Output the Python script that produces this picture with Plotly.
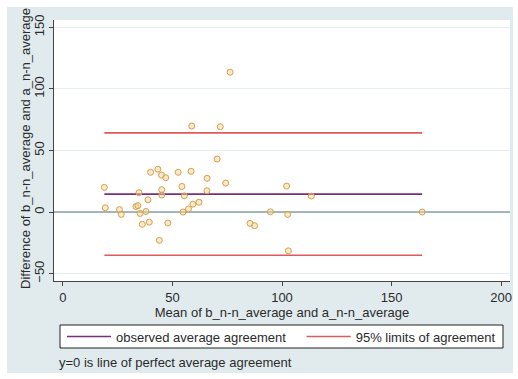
import plotly.graph_objects as go

# Bland-Altman data: mean of the two measurements vs. their difference
mean_vals = [18.9, 19.3, 25.8, 26.6, 33.3, 34.2, 34.7, 35.2, 36.2, 37.9,
             38.8, 39.4, 40.0, 43.3, 44.0, 45.0, 46.9, 45.1, 45.1, 47.9,
             52.6, 54.3, 55.4, 54.8, 57.3, 58.5, 58.8, 59.3, 62.1, 65.8,
             65.7, 70.4, 71.8, 74.3, 76.3, 85.4, 87.5, 94.7, 102.1, 102.6,
             102.9, 113.4, 164.0]
diff_vals = [20.0, 3.5, 2.0, -1.9, 4.5, 5.2, 15.7, -1.1, -10.0, 0.5,
             10.0, -8.2, 32.3, 34.8, -23.0, 30.0, 27.9, 18.2, 13.8, -8.9,
             32.3, 20.8, 13.2, 0.0, 2.5, 33.1, 69.9, 6.4, 8.0, 27.4,
             17.3, 43.1, 69.3, 23.5, 113.6, -9.2, -11.1, 0.2, 21.1, -1.9,
             -31.5, 13.0, 0.0]

mean_diff = 14.6
upper_loa = 64.3
lower_loa = -35.1

x_ticks = [0, 50, 100, 150, 200]
y_ticks = [-50, 0, 50, 100, 150]

x_span = [min(mean_vals), max(mean_vals)]

FONT = "Liberation Sans, Arial, sans-serif"
TXT = "#2b2b2b"
BG = "#e1ebee"

W, H = 518, 379
ML, MR, MT, MB = 54, 8, 20, 98
PW, PH = W - ML - MR, H - MT - MB


def px_x(p):
    return (p - ML) / PW


def px_y(p):
    return (H - MB - p) / PH


fig = go.Figure()

# perfect agreement reference line
fig.add_trace(go.Scatter(
    x=[-10, 210], y=[0, 0], mode="lines",
    line=dict(color="#86a3a3", width=1.6), showlegend=False, hoverinfo="skip"))

fig.add_trace(go.Scatter(
    x=x_span, y=[mean_diff, mean_diff], mode="lines",
    line=dict(color="#7b2d7f", width=1.6),
    name="observed average agreement\u00a0\u00a0\u00a0"))

fig.add_trace(go.Scatter(
    x=x_span, y=[upper_loa, upper_loa], mode="lines",
    line=dict(color="#e05a5c", width=1.6), name="95% limits of agreement",
    legendgroup="loa"))
fig.add_trace(go.Scatter(
    x=x_span, y=[lower_loa, lower_loa], mode="lines",
    line=dict(color="#e05a5c", width=1.6), showlegend=False,
    legendgroup="loa"))

fig.add_trace(go.Scatter(
    x=mean_vals, y=diff_vals, mode="markers",
    marker=dict(size=6, color="rgba(246,214,150,0.5)",
                line=dict(color="#d69f4c", width=1)),
    showlegend=False))

# thin white border strips around the tinted graph region
for (a, b, c, d) in [(0, 7, 0, H), (W - 5, W, 0, H), (0, W, 0, 7), (0, W, H - 6, H)]:
    fig.add_shape(type="rect", xref="paper", yref="paper",
                  x0=px_x(a), x1=px_x(b), y0=px_y(d), y1=px_y(c),
                  fillcolor="white", line=dict(width=0), layer="above")

# legend box
fig.add_shape(type="rect", xref="paper", yref="paper",
              x0=px_x(60), x1=px_x(503), y0=px_y(348), y1=px_y(325),
              fillcolor="white", line=dict(color="#222", width=1),
              layer="above")

# y-axis title
fig.add_annotation(
    text="Difference of b_n-n_average and a_n-n_average",
    xref="paper", yref="paper", x=px_x(25), y=px_y(149),
    xanchor="center", yanchor="middle", textangle=-90, showarrow=False,
    font=dict(family=FONT, size=13, color=TXT))

fig.add_annotation(
    text="y=0 is line of perfect average agreement",
    xref="paper", yref="paper", x=px_x(57), y=px_y(362),
    xanchor="left", yanchor="middle", showarrow=False,
    font=dict(family=FONT, size=13, color=TXT))

fig.update_layout(
    width=W, height=H,
    margin=dict(l=ML, r=MR, t=MT, b=MB, autoexpand=False),
    paper_bgcolor=BG, plot_bgcolor="white",
    font=dict(family=FONT, size=13, color=TXT),
    legend=dict(
        orientation="h", x=px_x(62), xanchor="left",
        y=px_y(336.5), yanchor="middle",
        bgcolor="rgba(0,0,0,0)", borderwidth=0,
        font=dict(family=FONT, size=13, color=TXT),
        itemwidth=44, traceorder="normal"),
    xaxis=dict(
        range=[-4.1, 204.1], tickvals=x_ticks, showgrid=False, zeroline=False,
        showline=True, linecolor="#444", linewidth=1.2,
        ticks="outside", ticklen=4, tickcolor="#444",
        title=dict(text="Mean of b_n-n_average and a_n-n_average",
                   font=dict(size=13), standoff=0)),
    yaxis=dict(
        range=[-56, 156], tickvals=y_ticks, tickangle=-90,
        showgrid=True, gridcolor="#e6eff0", gridwidth=1, zeroline=False,
        showline=True, linecolor="#444", linewidth=1.2,
        ticks="outside", ticklen=4, tickcolor="#444"),
)

fig.write_html("out.html")
